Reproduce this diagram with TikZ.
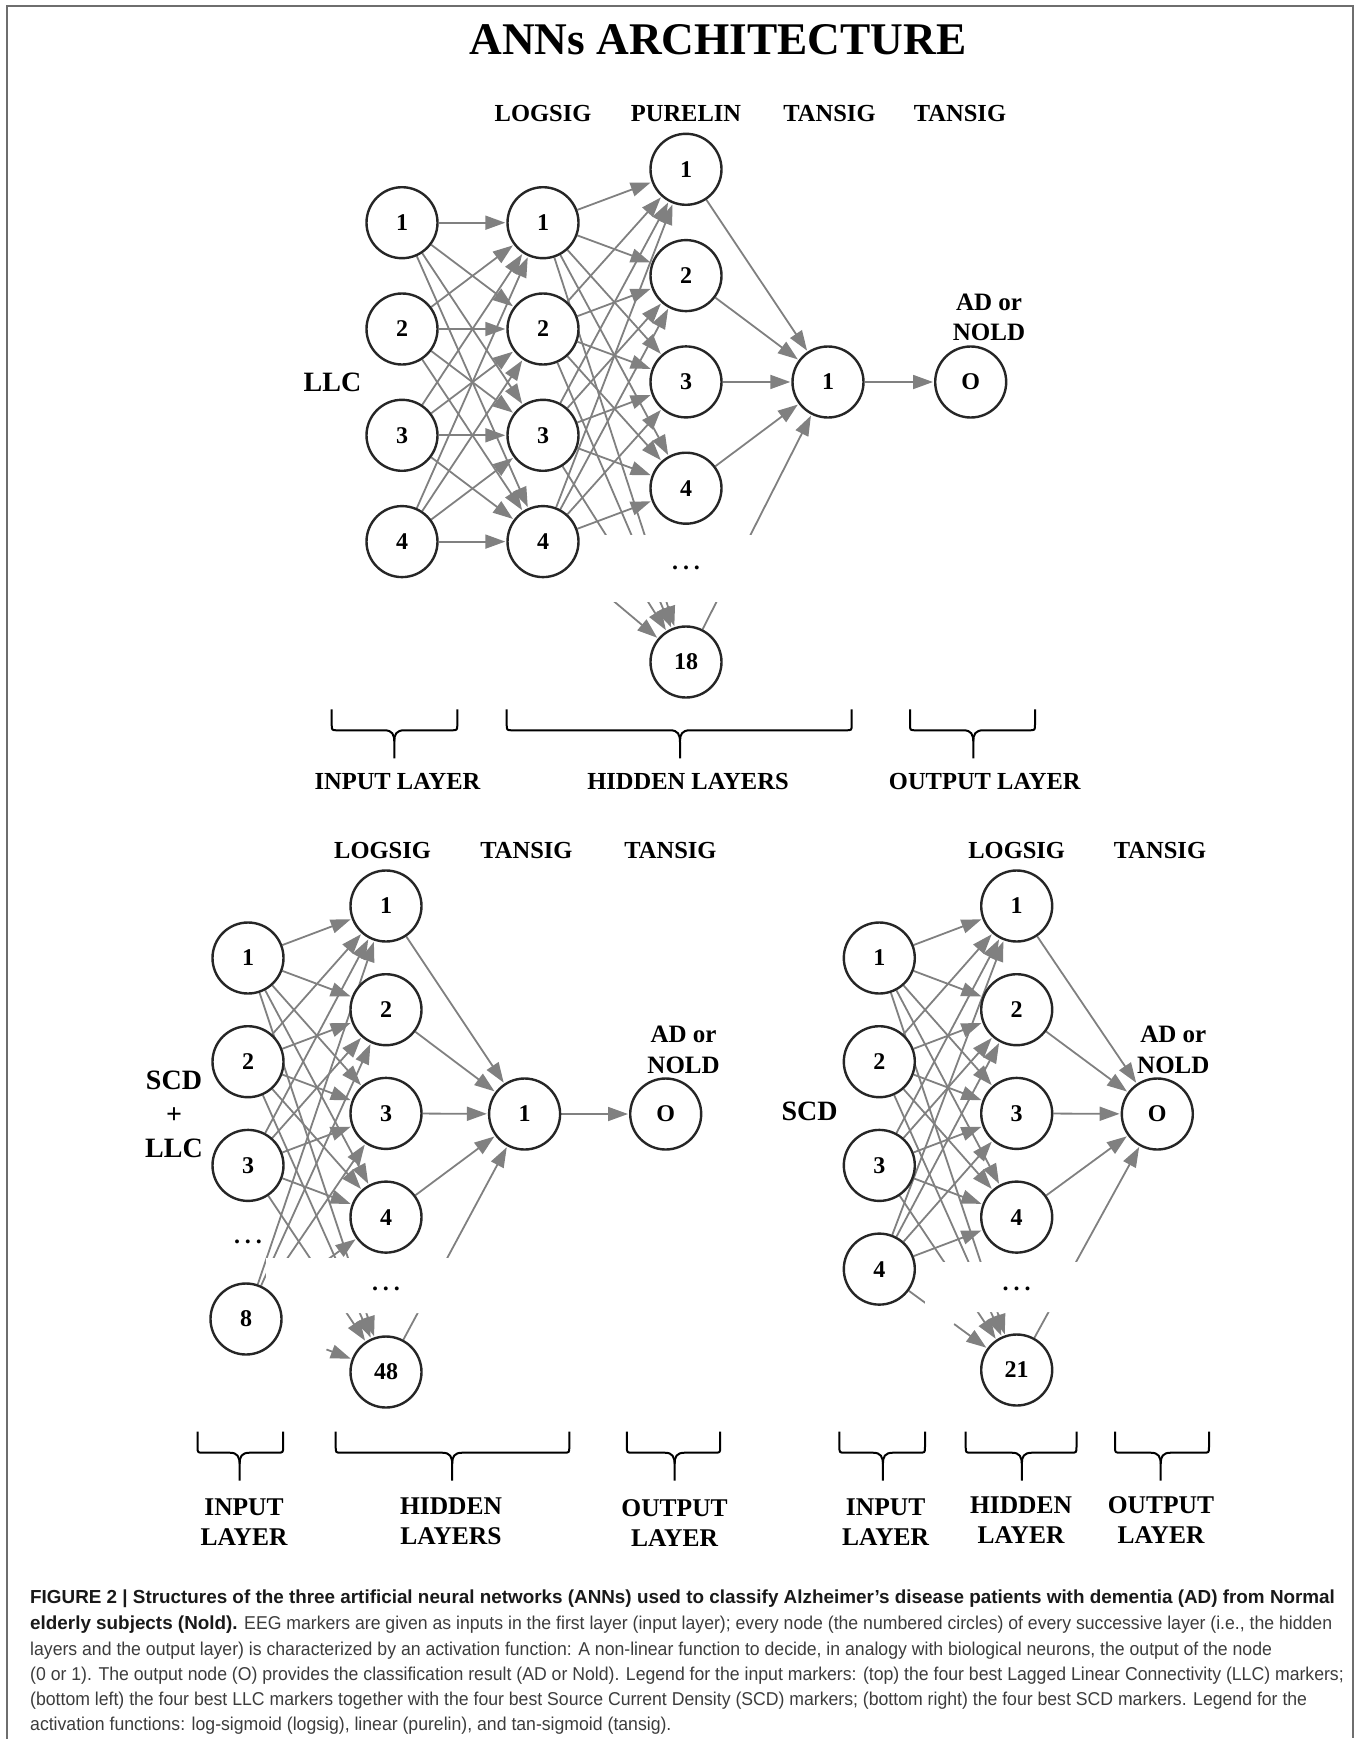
\documentclass[tikz,border=0pt]{standalone}
\usepackage{fontspec}
\setmainfont{Liberation Serif}
\newfontfamily\capfont[FakeStretch=0.949]{Liberation Sans}
\newfontfamily\capboldfont{Liberation Sans}
\usetikzlibrary{positioning, arrows.meta, calc}
\definecolor{edgegray}{RGB}{128,128,128}
\definecolor{framegray}{RGB}{110,110,110}
\definecolor{captext}{RGB}{60,60,60}
\pgfdeclarelayer{background}
\pgfsetlayers{background,main}
% brace under a group of layers: left x, right x, tip x, top y
\newcommand{\layerbrace}[4]{%
  \draw[bracestyle] (#1,#4) -- (#1,#4+15) .. controls (#1,#4+21) .. (#1+6,#4+21)
    -- (#3-10,#4+21) .. controls (#3-2,#4+21) and (#3,#4+25) .. (#3,#4+33) -- (#3,#4+50);
  \draw[bracestyle] (#2,#4) -- (#2,#4+15) .. controls (#2,#4+21) .. (#2-6,#4+21)
    -- (#3+10,#4+21) .. controls (#3+2,#4+21) and (#3,#4+25) .. (#3,#4+33);}
\newcommand{\skipdots}{.\hspace{5pt}.\hspace{5pt}.}
\newcommand{\capbold}[1]{{\capboldfont\fontsize{18.86}{25}\selectfont\bfseries\color{black!90}#1}}

\begin{document}
\begin{tikzpicture}[x=1pt, y=-1pt, shorten >=1pt, >={Triangle[length=20pt,width=14pt]},
    neuron/.style={circle, draw=black!85, line width=2.4pt, fill=white, minimum size=71pt,
      inner sep=0pt, font=\fontsize{24}{24}\selectfont\bfseries},
    conn/.style={->, draw=edgegray, fill=edgegray, line width=1.8pt},
    head/.style={font=\fontsize{24.5}{24.5}\selectfont\bfseries},
    layer/.style={align=center, font=\fontsize{25.5}{30}\selectfont\bfseries},
    marker/.style={align=center, font=\fontsize{28}{34}\selectfont\bfseries},
    result/.style={align=center, font=\fontsize{25}{30.5}\selectfont\bfseries},
    skip/.style={font=\fontsize{24}{24}\selectfont\bfseries},
    bracestyle/.style={draw=black, line width=2pt, line join=round},
    capline/.style={anchor=base west, inner sep=0pt, text=captext,
      font=\capfont\fontsize{18.6}{25}\selectfont}]
  \useasboundingbox (0,0) rectangle (1363,1739);
  \draw[framegray, line width=2pt] (7.3,1739) -- (7.3,6) -- (1352.7,6) -- (1352.7,1739);

  \node[font=\fontsize{45.3}{45.3}\selectfont\bfseries] (title) at (718,40) {ANNs ARCHITECTURE};

  % top network (LLC)
  \begin{scope}[node distance=106.3pt]
    \node[neuron] (i1) at (402,222.7) {1};
    \node[neuron] (i2) [below of=i1] {2};
    \node[neuron] (i3) [below of=i2] {3};
    \node[neuron] (i4) [below of=i3] {4};
    \node[neuron] (h1) at (543,222.7) {1};
    \node[neuron] (h2) [below of=h1] {2};
    \node[neuron] (h3) [below of=h2] {3};
    \node[neuron] (h4) [below of=h3] {4};
    \node[neuron] (p1) at (686,169.3) {1};
    \node[neuron] (p2) [below of=p1] {2};
    \node[neuron] (p3) [below of=p2] {3};
    \node[neuron] (p4) [below of=p3] {4};
    \node[skip] (pdots) at (686,568) {\skipdots};
    \node[neuron] (p18) at (686,662) {18};
    \node[neuron] (t1) at (828,382) {1};
    \node[neuron] (o) at (970.7,382) {O};
  \end{scope}
  \node[marker] (llc) at (332.5,382) {LLC};
  \node[head] at (543,114) {LOGSIG};
  \node[head] at (686,114) {PURELIN};
  \node[head] at (829.5,114) {TANSIG};
  \node[head] at (960,114) {TANSIG};
  \node[result] (res) at (989,317.2) {AD or\\NOLD};

  % bottom left network (SCD + LLC)
  \begin{scope}[node distance=103.7pt]
    \node[neuron] (li1) at (248,958) {1};
    \node[neuron] (li2) [below of=li1] {2};
    \node[neuron] (li3) [below of=li2] {3};
    \node[skip] (lidots) at (248,1242) {\skipdots};
    \node[neuron] (li8) at (246,1319) {8};
    \node[neuron] (lh1) at (386,906) {1};
    \node[neuron] (lh2) [below of=lh1] {2};
    \node[neuron] (lh3) [below of=lh2] {3};
    \node[neuron] (lh4) [below of=lh3] {4};
    \node[skip] (lhdots) at (386,1289) {\skipdots};
    \node[neuron] (lh48) at (386,1372) {48};
    \node[neuron] (lt1) at (524.6,1114) {1};
    \node[neuron] (lo) at (665.7,1114) {O};
  \end{scope}
  \node[marker] (scdllc) at (174,1114) {SCD\\+\\LLC};
  \node[head] at (382.5,850) {LOGSIG};
  \node[head] at (526.4,850) {TANSIG};
  \node[head] at (670.4,850) {TANSIG};
  \node[result] (lres) at (683.6,1049.8) {AD or\\NOLD};

  % bottom right network (SCD)
  \begin{scope}[node distance=103.7pt]
    \node[neuron] (ri1) at (879.3,958) {1};
    \node[neuron] (ri2) [below of=ri1] {2};
    \node[neuron] (ri3) [below of=ri2] {3};
    \node[neuron] (ri4) [below of=ri3] {4};
    \node[neuron] (rh1) at (1016.7,906) {1};
    \node[neuron] (rh2) [below of=rh1] {2};
    \node[neuron] (rh3) [below of=rh2] {3};
    \node[neuron] (rh4) [below of=rh3] {4};
    \node[skip] (rhdots) at (1016.7,1289) {\skipdots};
    \node[neuron] (rh21) at (1016.7,1370) {21};
    \node[neuron] (ro) at (1157.3,1114) {O};
  \end{scope}
  \node[marker] (scd) at (809.6,1111.6) {SCD};
  \node[head] at (1016.7,850) {LOGSIG};
  \node[head] at (1160,850) {TANSIG};
  \node[result] (rres) at (1173.3,1049.8) {AD or\\NOLD};

  \begin{pgfonlayer}{background}
    \foreach \a in {1,...,4}
      \foreach \b in {1,...,4}
        \path[conn] (i\a) edge (h\b);
    \foreach \a in {1,...,4}
      \foreach \b in {1,2,3,4,18}
        \path[conn] (h\a) edge (p\b);
    \foreach \b in {1,2,3,4,18}
      \path[conn] (p\b) edge (t1);
    \path[conn] (t1) edge (o);

    \foreach \a in {1,2,3,8}
      \foreach \b in {1,2,3,4,48}
        \path[conn] (li\a) edge (lh\b);
    \foreach \b in {1,2,3,4,48}
      \path[conn] (lh\b) edge (lt1);
    \path[conn] (lt1) edge (lo);

    \foreach \a in {1,...,4}
      \foreach \b in {1,2,3,4,21}
        \path[conn] (ri\a) edge (rh\b);
    \foreach \b in {1,2,3,4,21}
      \path[conn] (rh\b) edge (ro);

    % gaps where the layers are cut short
    \fill[white] (569,535) rectangle (775,602);
    \fill[white] (266,1258) -- (560,1258) -- (560,1313) -- (345,1313) -- (325,1352) -- (266,1352) -- cycle;
    \fill[white] (925,1262) -- (1100,1262) -- (1100,1312) -- (962,1312) -- (950,1330) -- (925,1330) -- cycle;
  \end{pgfonlayer}

  % braces and layer names
  \layerbrace{331.7}{457.3}{394.3}{709.3}
  \layerbrace{506.7}{851.7}{680}{709.3}
  \layerbrace{910}{1035}{973.3}{709.3}
  \node[head] (tin) at (397.5,781.3) {INPUT LAYER};
  \node[head] (thid) at (688,781.3) {HIDDEN LAYERS};
  \node[head] (tout) at (984.8,781.3) {OUTPUT LAYER};

  \layerbrace{197.5}{283.1}{239.6}{1431.7}
  \layerbrace{335.7}{569.3}{452.2}{1431.7}
  \layerbrace{626.9}{720.2}{674.6}{1431.7}
  \layerbrace{839.4}{925}{882.9}{1431.7}
  \layerbrace{965.7}{1076.5}{1021.8}{1431.7}
  \layerbrace{1115}{1209}{1160.7}{1431.7}
  \node[layer] (lin) at (244,1521.7) {INPUT\\LAYER};
  \node[layer] (lhid) at (451,1521.7) {HIDDEN\\LAYERS};
  \node[layer] (lout) at (674.6,1522.8) {OUTPUT\\LAYER};
  \node[layer] (rin) at (885.6,1521.7) {INPUT\\LAYER};
  \node[layer] (rhid) at (1021,1520) {HIDDEN\\LAYER};
  \node[layer] (rout) at (1161,1520) {OUTPUT\\LAYER};

  % caption
  \node[capline] (cap1) at (30,1603.3) {\capbold{FIGURE 2 | Structures of the three artificial neural networks (ANNs) used to classify Alzheimer’s disease patients with dementia (AD) from Normal}};
  \node[capline] (cap2) at (30,1629.3) {\capbold{elderly subjects (Nold).} EEG markers are given as inputs in the first layer (input layer); every node (the numbered circles) of every successive layer (i.e., the hidden};
  \node[capline] (cap3) at (30,1655) {layers and the output layer) is characterized by an activation function: A non-linear function to decide, in analogy with biological neurons, the output of the node};
  \node[capline] (cap4) at (30,1680.3) {(0 or 1). The output node (O) provides the classification result (AD or Nold). Legend for the input markers: (top) the four best Lagged Linear Connectivity (LLC) markers;};
  \node[capline] (cap5) at (30,1705.5) {(bottom left) the four best LLC markers together with the four best Source Current Density (SCD) markers; (bottom right) the four best SCD markers. Legend for the};
  \node[capline] (cap6) at (30,1730.7) {activation functions: log-sigmoid (logsig), linear (purelin), and tan-sigmoid (tansig).};
\end{tikzpicture}
\end{document}
